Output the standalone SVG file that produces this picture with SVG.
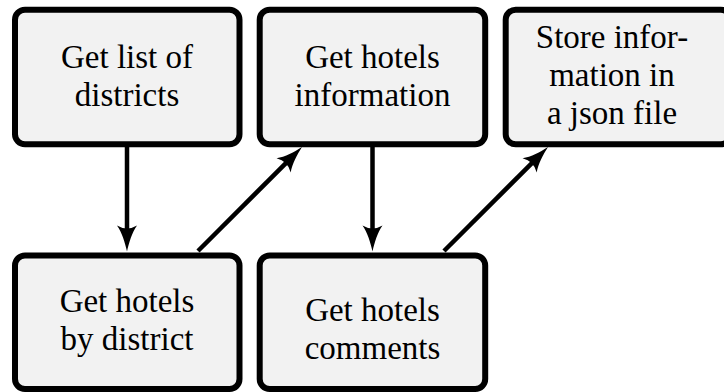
<svg xmlns="http://www.w3.org/2000/svg" width="724" height="392" viewBox="0 0 724 392">
  <style>
    .box { fill: #f2f2f2; stroke: #000; stroke-width: 6; }
    .lbl { font-family: "Liberation Serif", "DejaVu Serif", serif; font-size: 33px; fill: #000; text-anchor: middle; }
    .edge { stroke: #000; stroke-width: 4.5; fill: none; marker-end: url(#tip); }
  </style>
  <defs>
    <!-- curved-sided arrow tip; the line stops 16px short of the point -->
    <marker id="tip" viewBox="-27 -11 28 22" markerWidth="28" markerHeight="22" refX="-16" refY="0" orient="auto" markerUnits="userSpaceOnUse" overflow="visible">
      <path d="M0,0 C-9,-2 -19,-5 -26,-10 Q-20,0 -26,10 C-19,5 -9,2 0,0 Z" fill="#000"/>
    </marker>
  </defs>

  <g id="n-districts">
    <rect class="box" x="15" y="9.7" width="224.5" height="134.6" rx="10"/>
    <text class="lbl" x="127" y="68">Get list of</text>
    <text class="lbl" x="127" y="106">districts</text>
  </g>

  <g id="n-hotels-info">
    <rect class="box" x="259.7" y="9.7" width="225.5" height="134.6" rx="10"/>
    <text class="lbl" x="372.5" y="68">Get hotels</text>
    <text class="lbl" x="372.5" y="106">information</text>
  </g>

  <g id="n-store">
    <rect class="box" x="505.7" y="9.7" width="225" height="134.6" rx="10"/>
    <text class="lbl" x="612" y="48">Store infor-</text>
    <text class="lbl" x="612" y="86">mation in</text>
    <text class="lbl" x="612" y="124">a json file</text>
  </g>

  <g id="n-by-district">
    <rect class="box" x="15" y="255.5" width="224.5" height="133.5" rx="10"/>
    <text class="lbl" x="127" y="312">Get hotels</text>
    <text class="lbl" x="127" y="350">by district</text>
  </g>

  <g id="n-comments">
    <rect class="box" x="259.7" y="255.5" width="225.5" height="133.5" rx="10"/>
    <text class="lbl" x="372.5" y="321">Get hotels</text>
    <text class="lbl" x="372.5" y="359">comments</text>
  </g>

  <g id="connectors">
    <line class="edge" x1="127" y1="147" x2="127" y2="235.5"/>
    <line class="edge" x1="198" y1="251" x2="290.7" y2="158.3"/>
    <line class="edge" x1="372.5" y1="147" x2="372.5" y2="235.5"/>
    <line class="edge" x1="444" y1="251" x2="536.7" y2="158.3"/>
  </g>
</svg>
